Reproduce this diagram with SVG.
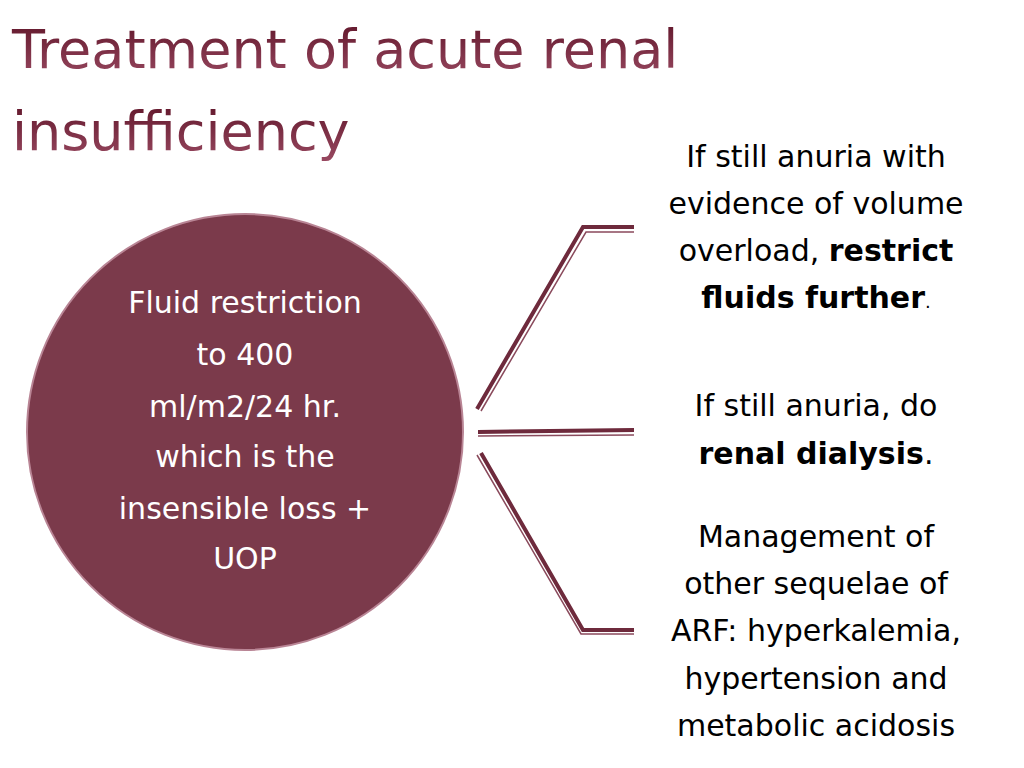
<svg xmlns="http://www.w3.org/2000/svg" width="1024" height="768" viewBox="0 0 1024 768">
<defs>
<linearGradient id="tg" x1="0" y1="0" x2="0" y2="1"><stop offset="0" stop-color="#5e1428"/><stop offset="1" stop-color="#9a4a62"/></linearGradient>
<style>
.t{font-family:"DejaVu Sans",sans-serif;font-size:30px;text-anchor:middle}
.w{fill:#fff}
.k{fill:#000}
.b{font-weight:bold}
.c1{fill:none;stroke:#6e2a3c;stroke-width:4}
.c2{fill:none;stroke:#8a4a5c;stroke-width:1.5}
</style>
</defs>
<rect width="1024" height="768" fill="#fff"/>
<g id="title" font-family="'DejaVu Sans',sans-serif" font-size="54" fill="url(#tg)">
<text x="12" y="68">Treatment of acute renal</text>
<text x="12" y="150">insufficiency</text>
</g>
<g id="circle">
<circle cx="245" cy="432" r="218" fill="#7b3a4b" stroke="#b98595" stroke-width="2"/>
<text class="t w" x="245" y="313">Fluid restriction</text>
<text class="t w" x="245" y="365">to 400</text>
<text class="t w" x="245" y="417">ml/m2/24 hr.</text>
<text class="t w" x="245" y="467">which is the</text>
<text class="t w" x="245" y="519">insensible loss +</text>
<text class="t w" x="245" y="569">UOP</text>
</g>
<g id="connectors">
<polyline class="c1" points="477,409 583,227 634,227"/>
<polyline class="c2" points="481,411 586,232 634,232"/>
<polyline class="c1" points="478,432 634,430"/>
<polyline class="c2" points="478,436 634,435"/>
<polyline class="c1" points="481,453 583,630 634,630"/>
<polyline class="c2" points="477,455 581,634 634,634"/>
</g>
<g id="n1">
<text class="t k" x="816" y="167">If still anuria with</text>
<text class="t k" x="816" y="214">evidence of volume</text>
<text class="t k" x="816" y="261">overload, <tspan class="b">restrict</tspan></text>
<text class="t k" x="816" y="308"><tspan class="b">fluids further</tspan><tspan font-size="18">.</tspan></text>
</g>
<g id="n2">
<text class="t k" x="816" y="416">If still anuria, do</text>
<text class="t k" x="816" y="464"><tspan class="b">renal dialysis</tspan>.</text>
</g>
<g id="n3">
<text class="t k" x="816" y="547">Management of</text>
<text class="t k" x="816" y="594">other sequelae of</text>
<text class="t k" x="816" y="641">ARF: hyperkalemia,</text>
<text class="t k" x="816" y="689">hypertension and</text>
<text class="t k" x="816" y="736">metabolic acidosis</text>
</g>
</svg>
